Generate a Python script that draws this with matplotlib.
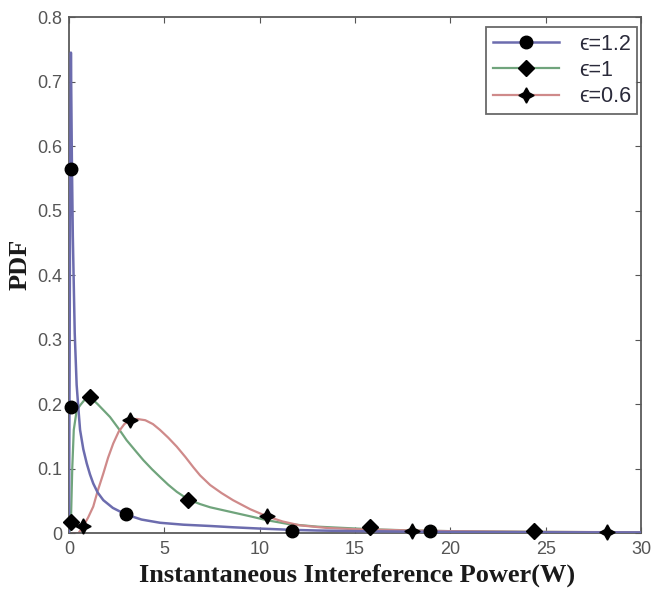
import matplotlib
matplotlib.use("Agg")
import matplotlib.pyplot as plt
from matplotlib.lines import Line2D

# ---- data ----
x_blue = [0.0, 0.03, 0.06, 0.1, 0.15, 0.2, 0.3, 0.4, 0.5, 0.58, 0.75, 0.93, 1.1, 1.27, 1.5, 1.8, 2.3, 2.97, 3.8, 4.77, 6.0, 7.4, 8.6, 10.0, 11.7, 13.0, 15.0, 18.9, 22.0, 26.0, 30.0]
y_blue = [0.0, 0.25, 0.55, 0.745, 0.58, 0.46, 0.31, 0.23, 0.19, 0.16, 0.13, 0.108, 0.091, 0.077, 0.063, 0.051, 0.039, 0.029, 0.021, 0.016, 0.013, 0.011, 0.009, 0.007, 0.005, 0.004, 0.003, 0.002, 0.0015, 0.0012, 0.001]
x_green = [0.0, 0.05, 0.1, 0.17, 0.25, 0.4, 0.58, 0.8, 1.1, 1.5, 2.15, 2.6, 3.02, 3.5, 3.9, 4.35, 4.77, 5.2, 5.65, 6.26, 6.87, 7.4, 8.0, 8.6, 9.5, 10.37, 11.5, 13.0, 15.8, 18.0, 20.0, 24.4, 30.0]
y_green = [0.0, 0.005, 0.017, 0.1, 0.16, 0.19, 0.198, 0.206, 0.211, 0.2, 0.18, 0.162, 0.144, 0.127, 0.113, 0.099, 0.087, 0.075, 0.064, 0.052, 0.045, 0.040, 0.036, 0.032, 0.026, 0.020, 0.014, 0.010, 0.006, 0.004, 0.003, 0.002, 0.001]
x_red = [0.0, 0.5, 0.75, 1.0, 1.27, 1.5, 1.8, 2.05, 2.32, 2.6, 2.9, 3.2, 3.55, 4.0, 4.4, 4.77, 5.2, 5.65, 6.1, 6.52, 6.87, 7.4, 8.0, 8.6, 9.5, 10.37, 11.2, 12.1, 13.5, 15.0, 18.0, 20.0, 24.0, 28.2, 30.0]
y_red = [0.0, 0.0, 0.011, 0.024, 0.041, 0.065, 0.0925, 0.117, 0.139, 0.157, 0.169, 0.175, 0.177, 0.175, 0.169, 0.16, 0.148, 0.134, 0.118, 0.102, 0.0895, 0.0745, 0.062, 0.051, 0.037, 0.026, 0.018, 0.012, 0.008, 0.006, 0.004, 0.003, 0.002, 0.0015, 0.001]

mk_blue_x = [0.1, 0.1, 2.97, 11.7, 18.9]
mk_blue_y = [0.565, 0.195, 0.029, 0.003, 0.003]
mk_green_x = [0.12, 1.1, 6.26, 15.8, 24.4]
mk_green_y = [0.0175, 0.211, 0.052, 0.010, 0.003]
mk_red_x = [0.75, 3.2, 10.37, 18.0, 28.2]
mk_red_y = [0.011, 0.175, 0.026, 0.004, 0.002]

labels = ["\u03f5=1.2", "\u03f5=1", "\u03f5=0.6"]
x_ticks = [0, 5, 10, 15, 20, 25, 30]
y_ticks = [0, 0.1, 0.2, 0.3, 0.4, 0.5, 0.6, 0.7, 0.8]
y_tick_labels = ["0", "0.1", "0.2", "0.3", "0.4", "0.5", "0.6", "0.7", "0.8"]

c_blue = "#6c6cae"
c_green = "#70a47c"
c_red = "#cf8a8a"
tick_font = ['Liberation Sans', 'DejaVu Sans']

fig = plt.figure(figsize=(6.51, 5.91), dpi=100)
ax = fig.add_axes([0.106, 0.098, 0.879, 0.873])

ax.plot(x_blue, y_blue, color=c_blue, lw=1.8, zorder=3)
ax.plot(x_green, y_green, color=c_green, lw=1.6, zorder=2)
ax.plot(x_red, y_red, color=c_red, lw=1.6, zorder=2)

star = (4, 1, 0)
ax.plot(mk_blue_x, mk_blue_y, 'o', color='black', ms=9, zorder=5, clip_on=False)
ax.plot(mk_green_x, mk_green_y, 'D', color='black', ms=8, zorder=5, clip_on=False)
ax.plot(mk_red_x, mk_red_y, marker=star, ls='none', color='black', ms=11, zorder=5, clip_on=False)

ax.set_xlim(0, 30)
ax.set_ylim(0, 0.8)
ax.set_xticks(x_ticks)
ax.set_yticks(y_ticks)
ax.set_yticklabels(y_tick_labels)
ax.tick_params(direction='in', top=True, right=True, length=4, color='#555555',
               labelsize=13, labelcolor='#555555')
ax.tick_params(axis='x', pad=6)
ax.tick_params(axis='y', pad=5)
for lbl in ax.get_xticklabels() + ax.get_yticklabels():
    lbl.set_family(tick_font)
for s in ax.spines.values():
    s.set_color('#5a5a5a')
    s.set_linewidth(1.3)

ax.set_xlabel("Instantaneous Intereference Power(W)", family='Liberation Serif',
              fontweight='bold', fontsize=19, color='#1a1a1a')
ax.xaxis.set_label_coords(0.503, -0.060)
ax.set_ylabel("PDF", family='Liberation Serif', fontweight='bold', fontsize=19,
              color='#1a1a1a')
ax.yaxis.set_label_coords(-0.066, 0.52)

handles = [
    Line2D([], [], color=c_blue, lw=1.8, marker='o', mfc='black', mec='black', ms=9),
    Line2D([], [], color=c_green, lw=1.6, marker='D', mfc='black', mec='black', ms=8),
    Line2D([], [], color=c_red, lw=1.6, marker=star, mfc='black', mec='black', ms=11),
]
leg = ax.legend(handles, labels, loc='upper right',
                bbox_to_anchor=(1 - 4 / 572, 1 - 10 / 516), borderaxespad=0,
                frameon=True, fancybox=False, edgecolor='#444444',
                handlelength=3.1, labelspacing=0.25, handletextpad=0.9,
                borderpad=0.3,
                prop={'family': ['Liberation Sans', 'DejaVu Sans'], 'size': 15.5})
leg.get_frame().set_linewidth(1.3)
for t in leg.get_texts():
    t.set_color('#2a2a3a')

fig.savefig("out.png", dpi=100)
